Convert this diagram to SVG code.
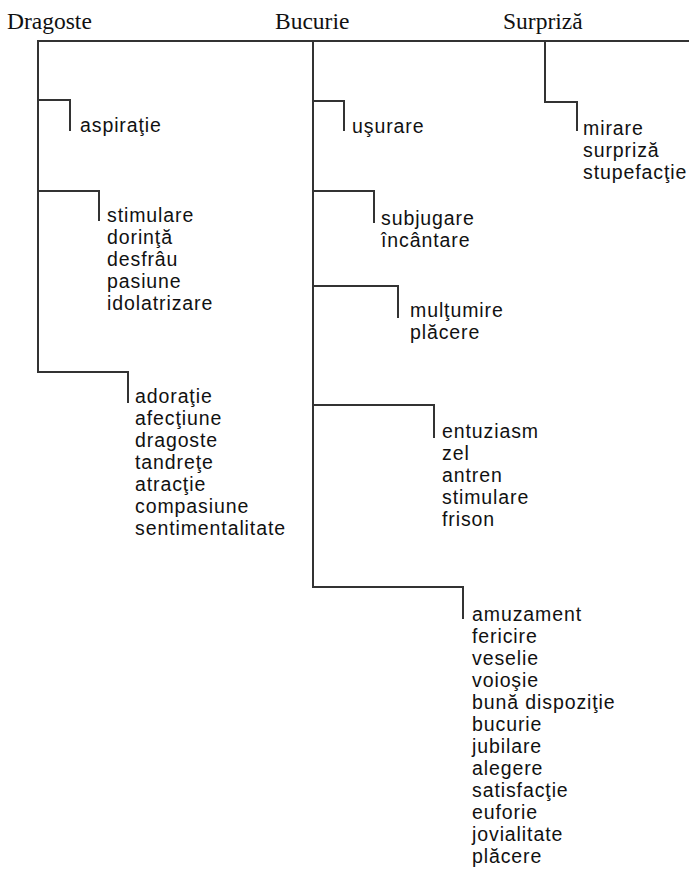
<svg xmlns="http://www.w3.org/2000/svg" width="689" height="869" viewBox="0 0 689 869">
<style>
.bg{fill:#ffffff}
.hd{font-family:"Liberation Serif","Times New Roman",serif;font-size:23.5px;fill:#111}
.it{font-family:"Liberation Sans",Arial,sans-serif;font-size:19.5px;letter-spacing:0.9px;fill:#111}
.ln{fill:none;stroke:#333;stroke-width:2;stroke-linecap:square;stroke-linejoin:miter}
</style>
<rect class="bg" x="0" y="0" width="689" height="869"/>
<g id="connectors">
<path class="ln" d="M38 41 H689"/>
<path class="ln" d="M38 41 V372"/>
<path class="ln" d="M38 100 H70 V130"/>
<path class="ln" d="M38 191 H99 V220"/>
<path class="ln" d="M38 372 H128 V402"/>
<path class="ln" d="M313 41 V587"/>
<path class="ln" d="M313 101 H344 V130"/>
<path class="ln" d="M313 191 H374 V222"/>
<path class="ln" d="M313 286 H398 V317"/>
<path class="ln" d="M313 405 H434 V437"/>
<path class="ln" d="M313 587 H463 V618"/>
<path class="ln" d="M545 41 V102 H577 V130"/>
</g>
<g id="dragoste"><text class="hd" x="7" y="29">Dragoste</text></g>
<g id="bucurie"><text class="hd" x="275" y="29">Bucurie</text></g>
<g id="surpriza"><text class="hd" x="503" y="29">Surpriză</text></g>
<g id="d1"><text class="it" x="80" y="132">aspiraţie</text></g>
<g id="d2"><text class="it" x="107" y="222">stimulare<tspan x="107" dy="22">dorinţă</tspan><tspan x="107" dy="22">desfrâu</tspan><tspan x="107" dy="22">pasiune</tspan><tspan x="107" dy="22">idolatrizare</tspan></text></g>
<g id="d3"><text class="it" x="135" y="403">adoraţie<tspan x="135" dy="22">afecţiune</tspan><tspan x="135" dy="22">dragoste</tspan><tspan x="135" dy="22">tandreţe</tspan><tspan x="135" dy="22">atracţie</tspan><tspan x="135" dy="22">compasiune</tspan><tspan x="135" dy="22">sentimentalitate</tspan></text></g>
<g id="b1"><text class="it" x="352" y="133">uşurare</text></g>
<g id="b2"><text class="it" x="381" y="225">subjugare<tspan x="381" dy="22">încântare</tspan></text></g>
<g id="b3"><text class="it" x="410" y="317">mulţumire<tspan x="410" dy="22">plăcere</tspan></text></g>
<g id="b4"><text class="it" x="442" y="438">entuziasm<tspan x="442" dy="22">zel</tspan><tspan x="442" dy="22">antren</tspan><tspan x="442" dy="22">stimulare</tspan><tspan x="442" dy="22">frison</tspan></text></g>
<g id="b5"><text class="it" x="472" y="621">amuzament<tspan x="472" dy="22">fericire</tspan><tspan x="472" dy="22">veselie</tspan><tspan x="472" dy="22">voioşie</tspan><tspan x="472" dy="22">bună dispoziţie</tspan><tspan x="472" dy="22">bucurie</tspan><tspan x="472" dy="22">jubilare</tspan><tspan x="472" dy="22">alegere</tspan><tspan x="472" dy="22">satisfacţie</tspan><tspan x="472" dy="22">euforie</tspan><tspan x="472" dy="22">jovialitate</tspan><tspan x="472" dy="22">plăcere</tspan></text></g>
<g id="s1"><text class="it" x="583" y="135">mirare<tspan x="583" dy="22">surpriză</tspan><tspan x="583" dy="22">stupefacţie</tspan></text></g>
</svg>
